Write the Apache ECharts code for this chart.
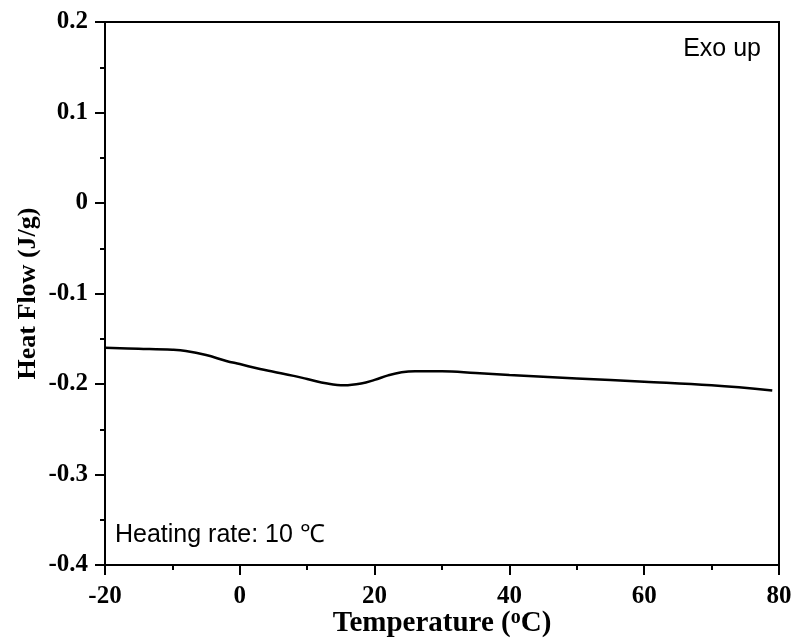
<!DOCTYPE html>
<html><head><meta charset="utf-8">
<script src="https://cdn.jsdelivr.net/npm/echarts@6/dist/echarts.min.js"></script>
<style>html,body{margin:0;padding:0;background:#fff}#c{width:793px;height:644px}</style>
</head><body><div id="c"></div>
<script>
const temperature = [-20, -15, -10, -8, -5, -2, 0, 3, 5, 8, 10, 13, 15.5, 18, 20, 22, 24, 26, 30, 35, 40, 50, 60, 70, 79];
const heatFlow = [-0.160, -0.161, -0.1622, -0.1635, -0.168, -0.1745, -0.178, -0.1835, -0.1865, -0.191, -0.1945, -0.1995, -0.2015, -0.1995, -0.1955, -0.1905, -0.187, -0.1858, -0.1858, -0.1878, -0.190, -0.1938, -0.1975, -0.2015, -0.2072];
const xTicks = [-20, 0, 20, 40, 60, 80];
const yTicks = [-0.4, -0.3, -0.2, -0.1, 0, 0.1, 0.2];

const serif = '"Liberation Serif","Times New Roman",serif';
const sans = '"Liberation Sans",Arial,sans-serif';
const chart = echarts.init(document.getElementById('c'));
chart.setOption({
  animation: false,
  grid: {left: 105, top: 22, right: 14, bottom: 79, show: true, borderColor: '#000', borderWidth: 2,
         containLabel: false, outerBoundsMode: 'none'},
  xAxis: {
    type: 'value', min: xTicks[0], max: xTicks[xTicks.length-1], interval: 20,
    name: 'Temperature ({sup|o}C)', nameLocation: 'middle', nameGap: 43, nameMoveOverlap: false,
    nameTextStyle: {fontFamily: serif, fontWeight: 'bold', fontSize: 29, color: '#000',
      rich: {sup: {fontFamily: serif, fontWeight: 'bold', fontSize: 20, color: '#000', verticalAlign: 'top', padding: [0,0,12,0]}}},
    axisLine: {onZero: false, lineStyle: {color: '#000', width: 2}},
    axisTick: {inside: false, length: 10, lineStyle: {width: 2, color: '#000'}},
    minorTick: {show: true, splitNumber: 2, length: 5, lineStyle: {width: 2, color: '#000'}},
    axisLabel: {fontFamily: serif, fontWeight: 'bold', fontSize: 25, color: '#000', margin: 19},
    splitLine: {show: false}
  },
  yAxis: {
    type: 'value', min: yTicks[0], max: yTicks[yTicks.length-1], interval: 0.1,
    name: 'Heat Flow (J/g)', nameLocation: 'middle', nameGap: 64, nameMoveOverlap: false,
    nameTextStyle: {fontFamily: serif, fontWeight: 'bold', fontSize: 26, color: '#000'},
    axisLine: {onZero: false, lineStyle: {color: '#000', width: 2}},
    axisTick: {inside: false, length: 10, lineStyle: {width: 2, color: '#000'}},
    minorTick: {show: true, splitNumber: 2, length: 5, lineStyle: {width: 2, color: '#000'}},
    axisLabel: {fontFamily: serif, fontWeight: 'bold', fontSize: 25, color: '#000', margin: 17,
      formatter: v => { const r = Math.round(v*10)/10; return r === 0 ? '0' : String(r); }},
    splitLine: {show: false}
  },
  series: [{
    type: 'line', data: temperature.map((t, i) => [t, heatFlow[i]]),
    smooth: 0.4, showSymbol: false, lineStyle: {color: '#000', width: 2.5}
  }],
  graphic: [
    {type: 'text', right: 32, top: 37, style: {text: 'Exo up', font: '25px ' + sans, fill: '#000'}},
    {type: 'text', left: 115, top: 523, style: {text: 'Heating rate: 10 \u2103', font: '25px ' + sans, fill: '#000'}}
  ]
});
</script></body></html>
